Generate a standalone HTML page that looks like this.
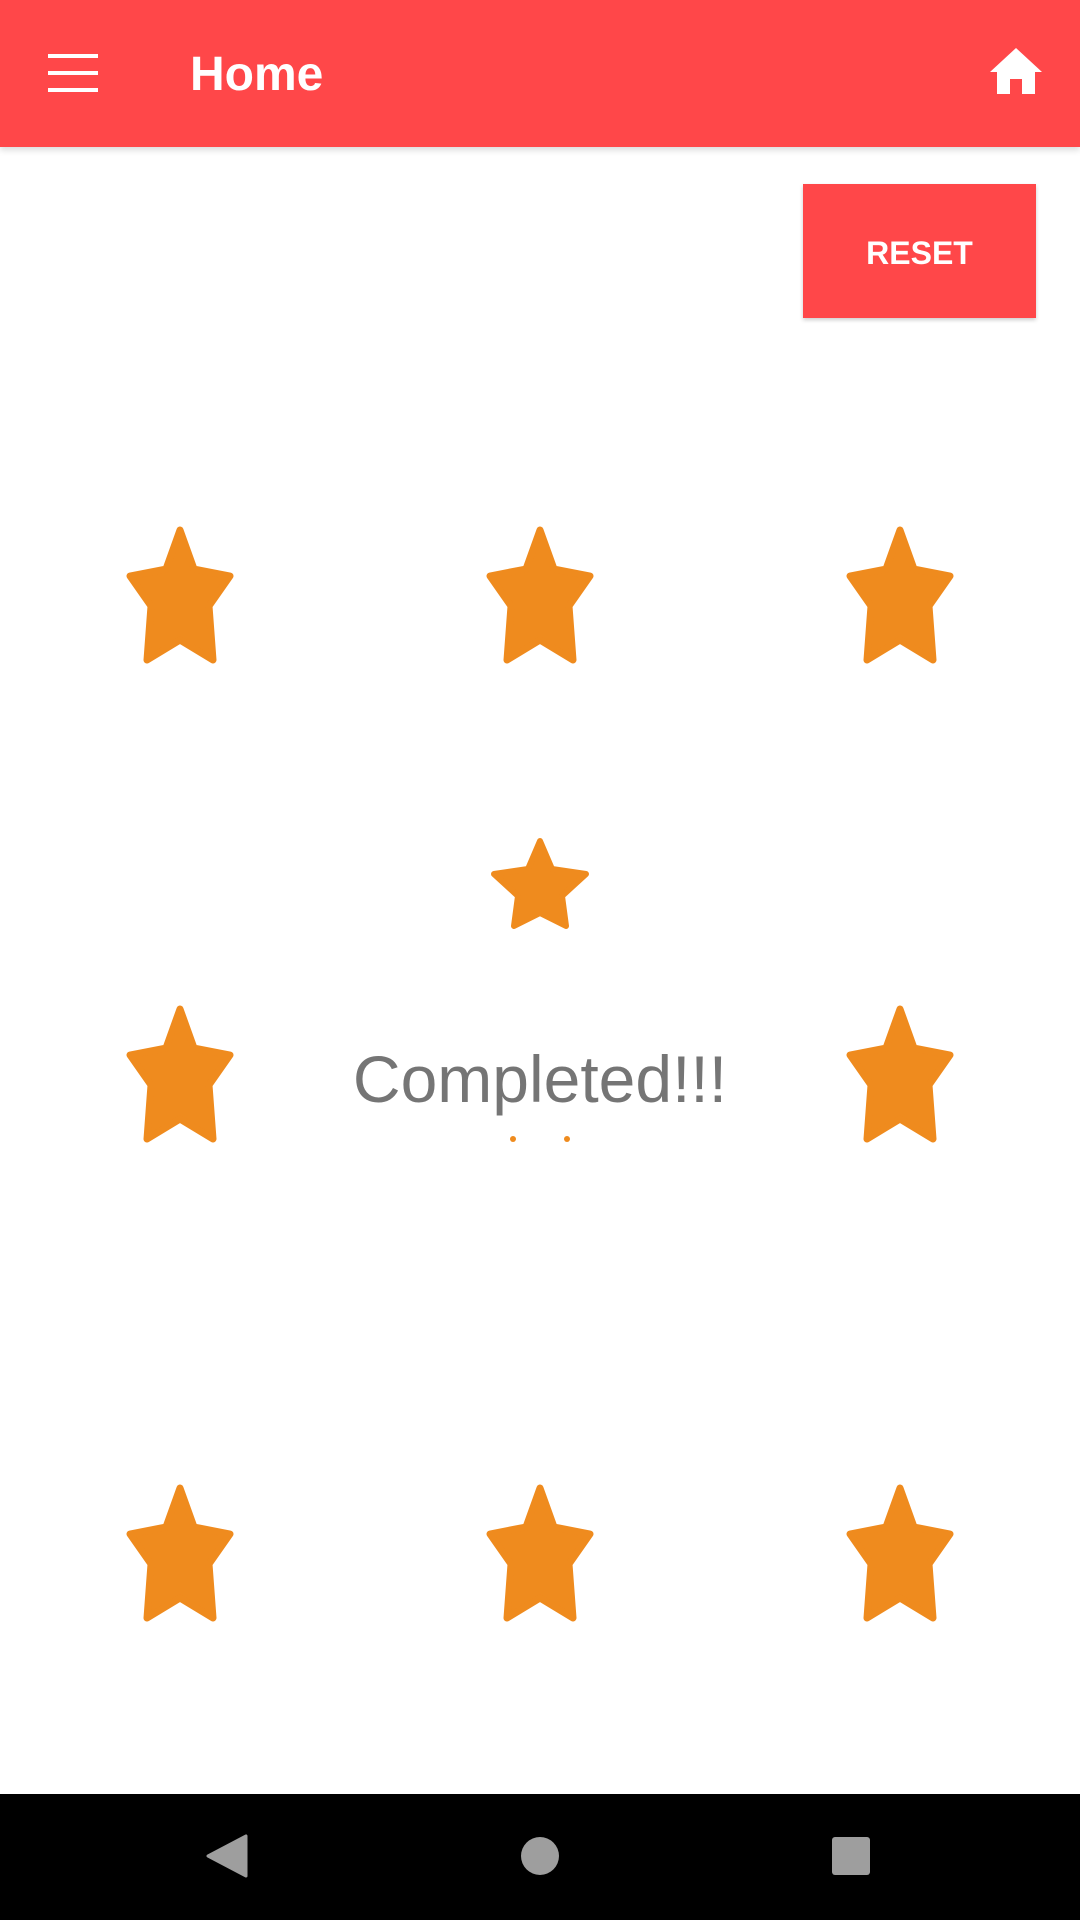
<!DOCTYPE html>
<html><head><meta charset="utf-8"><style>
body{margin:0;width:1080px;height:1920px;position:relative;background:#fff;font-family:"Liberation Sans",sans-serif;overflow:hidden}
.abs{position:absolute}
</style></head><body>
<div class="abs" style="left:0;top:0;width:1080px;height:147px;background:#ff4749;box-shadow:0 3px 6px rgba(0,0,0,0.15)">
  <div class="abs" style="left:48px;top:54px;width:50px;height:38px">
    <div class="abs" style="left:0;top:0;width:50px;height:4px;background:#fff"></div>
    <div class="abs" style="left:0;top:17px;width:50px;height:4px;background:#fff"></div>
    <div class="abs" style="left:0;top:34px;width:50px;height:4px;background:#fff"></div>
  </div>
  <div class="abs" style="left:190px;top:45px;font-size:48px;color:#fff;font-weight:bold;line-height:60px">Home</div>
  <svg class="abs" style="left:988px;top:46px" width="56" height="50" viewBox="0 0 56 50"><path d="M28 2 L54 26 L47 26 L47 48 L34 48 L34 33 L22 33 L22 48 L9 48 L9 26 L2 26 Z" fill="#fff"/></svg>
</div>
<div class="abs" style="left:803px;top:184px;width:233px;height:134px;background:#ff4749;box-shadow:0 2px 4px rgba(0,0,0,0.2);color:#fff;font-size:32px;font-weight:bold;text-align:center;line-height:138px">RESET</div>
<svg class="abs" style="left:0;top:0" width="1080" height="1920">
<defs><polygon id="st" points="0,-66 14,-27 50,-20 29,10 33,64 0,44 -33,64 -29,10 -50,-20 -14,-27" fill="#ef8b1e" stroke="#ef8b1e" stroke-width="7" stroke-linejoin="round"/></defs>
<use href="#st" x="180" y="596"/>
<use href="#st" x="540" y="596"/>
<use href="#st" x="900" y="596"/>
<use href="#st" x="180" y="1075"/>
<use href="#st" x="900" y="1075"/>
<use href="#st" x="180" y="1554"/>
<use href="#st" x="540" y="1554"/>
<use href="#st" x="900" y="1554"/>
<polygon points="540,841 552,869 586,874 562,896 566,926 540,913 514,926 518,896 494,874 528,869" fill="#ef8b1e" stroke="#ef8b1e" stroke-width="6" stroke-linejoin="round"/>
<circle cx="513" cy="1139" r="3" fill="#ef8b1e"/><circle cx="567" cy="1139" r="3" fill="#ef8b1e"/>
</svg>
<div class="abs" style="left:0;width:1080px;top:1034px;text-align:center;font-size:66px;color:#757575;line-height:90px">Completed!!!</div>
<div class="abs" style="left:0;top:1794px;width:1080px;height:126px;background:#000">
  <svg class="abs" style="left:204px;top:40px" width="44" height="44"><path d="M42 2 L42 42 L4 22 Z" fill="#9e9e9e" stroke="#9e9e9e" stroke-width="3" stroke-linejoin="round"/></svg>
  <div class="abs" style="left:521px;top:43px;width:38px;height:38px;border-radius:50%;background:#9e9e9e"></div>
  <div class="abs" style="left:832px;top:43px;width:38px;height:38px;border-radius:3px;background:#9e9e9e"></div>
</div>
</body></html>
